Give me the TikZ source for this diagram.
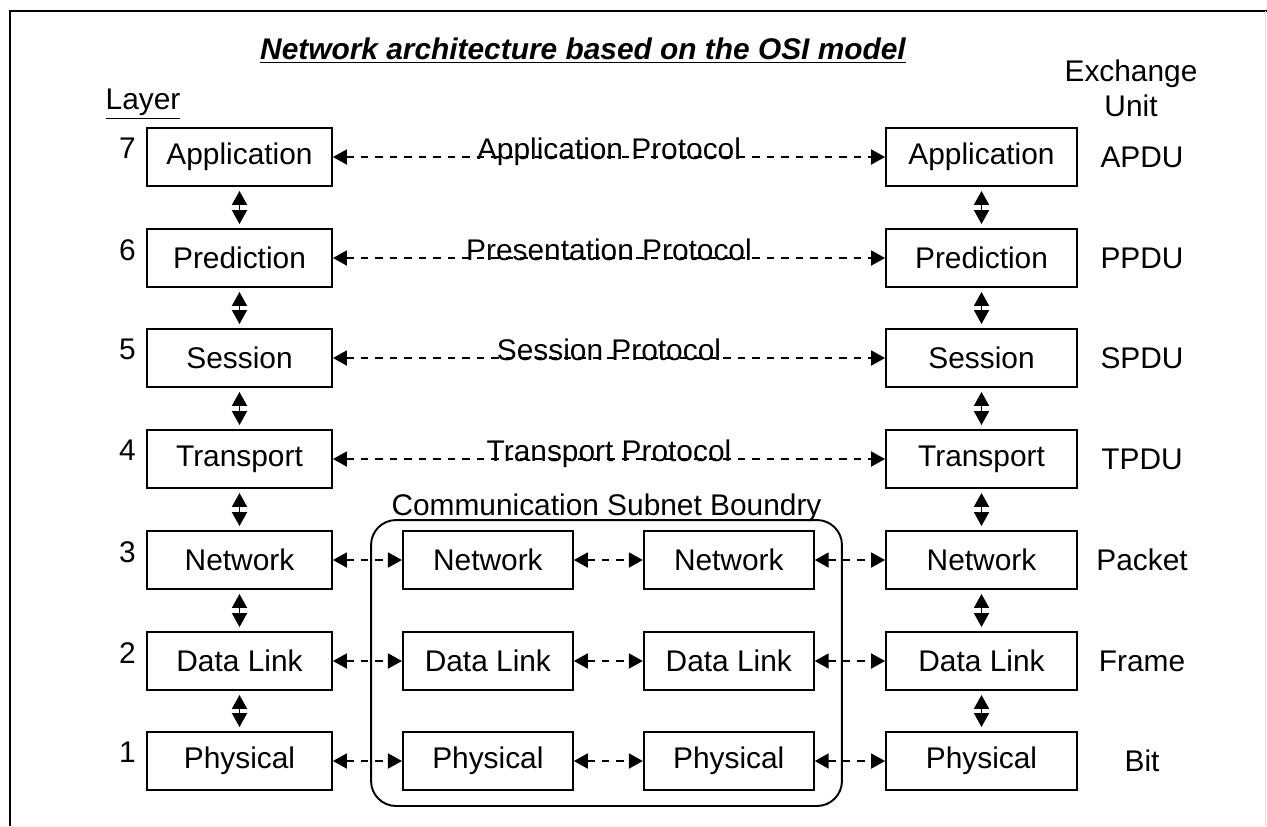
\documentclass[tikz,border=0pt]{standalone}
\usepackage{fontspec}
\setmainfont{Liberation Sans}
\usepackage{tikz}
\usetikzlibrary{positioning}
\usetikzlibrary{arrows.meta}
\tikzset{laybox/.style={draw, line width=1.1pt, minimum width=#1, minimum height=1.16cm, inner sep=0pt}}
\tikzset{updown/.style={{Triangle[length=0.28cm,width=0.3cm]}-{Triangle[length=0.28cm,width=0.3cm]}, line width=1.1pt}}
\tikzset{proto/.style={updown, dash pattern=on 0.15cm off 0.14cm}}

\begin{document}
\begin{tikzpicture}[x=0.02cm, y=-0.02cm, font=\fontsize{17}{20}\selectfont]
\useasboundingbox (0,0) rectangle (1267,826);
\draw[line width=1.1pt] (10,826) -- (10,11) -- (1267,11);
\draw[gray!25] (1265,11) -- (1265,826);
\node[font=\fontsize{17}{20}\selectfont\bfseries\itshape] (title) at (583,51) {\underline{Network architecture based on the OSI model}};
\node (layer) at (143,104) {\underline{Layer}};
\node[align=center] (exch) at (1131,88) {Exchange\\Unit};
% the two end systems
\foreach \n/\lab/\unit/\yy in {7/Application/APDU/157, 6/Prediction/PPDU/258, 5/Session/SPDU/358, 4/Transport/TPDU/459, 3/Network/Packet/560, 2/Data Link/Frame/661, 1/Physical/Bit/761} {
\node[laybox=3.7cm] (L\n) at (239.5,\yy) {\lab};
\node[laybox=3.82cm] (R\n) at (981.5,\yy) {\lab};
\node (U\n) at (1142,\yy) {\unit};
\node[anchor=north east, inner sep=0pt] (N\n) at ([xshift=-0.2cm,yshift=-0.22cm]L\n.north west) {\n};
}
\foreach \a/\b in {7/6,6/5,5/4,4/3,3/2,2/1} {
\draw[updown, shorten <=0.08cm, shorten >=0.08cm] (L\a) -- (L\b);
\draw[updown, shorten <=0.08cm, shorten >=0.08cm] (R\a) -- (R\b);
}
\foreach \n/\txt in {7/Application Protocol, 6/Presentation Protocol, 5/Session Protocol, 4/Transport Protocol} {
\draw[proto] (L\n) -- (R\n) node[midway, anchor=base, yshift=-0.04cm] (P\n) {\txt};
}
% subnet
\node[draw, line width=1.1pt, rounded corners=0.5cm, minimum width=9.42cm, minimum height=5.72cm] (subnet) at (606.5,663) {};
\node[anchor=base] (sublab) at ([yshift=0.08cm]subnet.north) {Communication Subnet Boundry};
\foreach \n/\lab in {3/Network, 2/Data Link, 1/Physical} {
\node[laybox=3.4cm, right=1.38cm of L\n] (A\n) {\lab};
\node[laybox=3.4cm, right=1.38cm of A\n] (B\n) {\lab};
\draw[proto] (L\n) -- (A\n);
\draw[proto] (A\n) -- (B\n);
\draw[proto] (B\n) -- (R\n);
}
\end{tikzpicture}
\end{document}
